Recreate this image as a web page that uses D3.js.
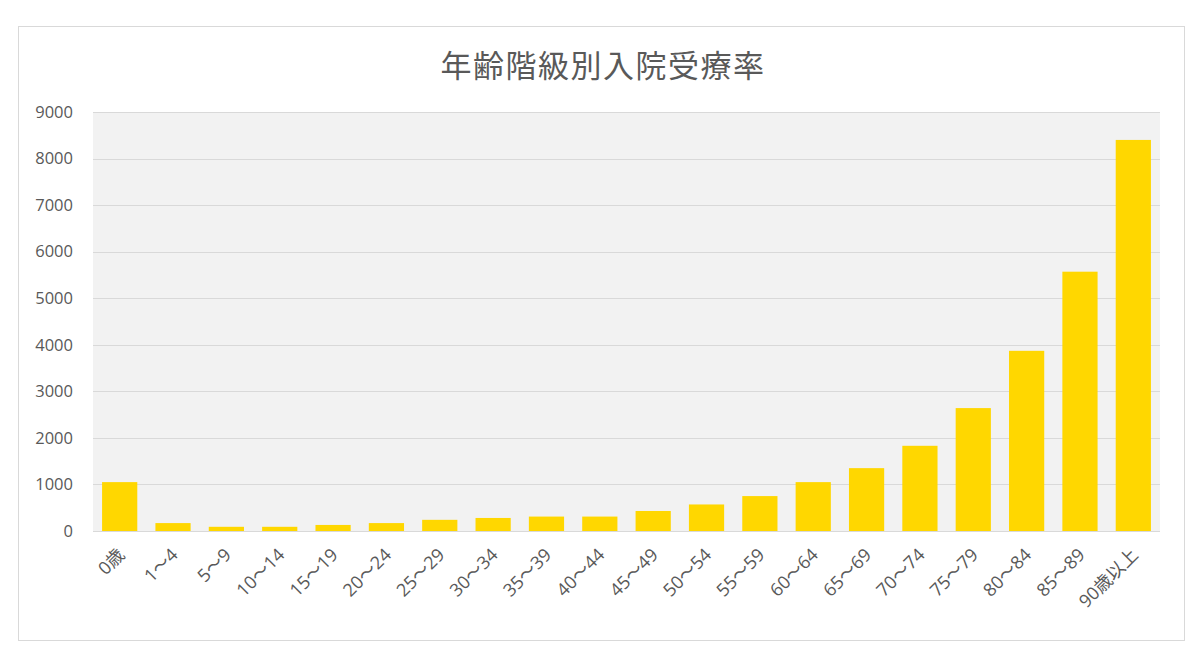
<!DOCTYPE html>
<html>
<head>
<meta charset="utf-8">
<script src="https://cdn.jsdelivr.net/npm/d3@7"></script>
<style>
  body { margin: 0; background: #fff; }
  svg { display: block; }
</style>
</head>
<body>
<div id="chart"></div>
<script>
const title = "年齢階級別入院受療率";
const categories = ["0歳", "1～4", "5～9", "10～14", "15～19", "20～24", "25～29", "30～34", "35～39", "40～44",
  "45～49", "50～54", "55～59", "60～64", "65～69", "70～74", "75～79", "80～84", "85～89", "90歳以上"];
const values = [1050, 170, 90, 90, 130, 170, 240, 280, 310, 310,
  430, 570, 750, 1050, 1350, 1830, 2640, 3870, 5570, 8400];
const yTicks = [0, 1000, 2000, 3000, 4000, 5000, 6000, 7000, 8000, 9000];

const width = 1200, height = 659;
const margin = {top: 112, right: 40, bottom: 128, left: 93};
const font = "'Open Sans', 'Noto Sans CJK JP', sans-serif";
const cjkFont = "'Noto Sans CJK JP', sans-serif";
const textColor = "#595959";

const svg = d3.select("#chart").append("svg")
  .attr("width", width)
  .attr("height", height);

// outer frame
svg.append("rect")
  .attr("x", 18.5).attr("y", 26.5)
  .attr("width", 1166).attr("height", 614)
  .attr("fill", "#fff")
  .attr("stroke", "#d9d9d9");

const x = d3.scaleBand()
  .domain(categories)
  .range([margin.left, width - margin.right])
  .paddingInner(0.34)
  .paddingOuter(0.17);

const y = d3.scaleLinear()
  .domain([0, 9000])
  .range([height - margin.bottom, margin.top]);

// plot background
svg.append("rect")
  .attr("x", margin.left).attr("y", y(9000))
  .attr("width", width - margin.right - margin.left)
  .attr("height", y(0) - y(9000))
  .attr("fill", "#f2f2f2");

// grid
svg.append("g")
  .selectAll("line")
  .data(yTicks)
  .join("line")
  .attr("x1", margin.left).attr("x2", width - margin.right)
  .attr("y1", d => Math.round(y(d)) + 0.5).attr("y2", d => Math.round(y(d)) + 0.5)
  .attr("stroke", "#d9d9d9");

// y axis labels
const yAxis = svg.append("g")
  .attr("transform", `translate(${margin.left},0)`)
  .call(d3.axisLeft(y).tickValues(yTicks).tickFormat(d3.format("d")).tickSize(0).tickPadding(20));
yAxis.select(".domain").remove();
yAxis.selectAll("text")
  .attr("fill", textColor)
  .style("font", `16.5px ${font}`);

// bars
svg.append("g")
  .selectAll("rect")
  .data(values)
  .join("rect")
  .attr("x", (d, i) => x(categories[i]))
  .attr("y", d => y(d))
  .attr("width", x.bandwidth())
  .attr("height", d => y(0) - y(d))
  .attr("fill", "#ffd700");

// x axis labels
const xAxis = svg.append("g")
  .attr("transform", `translate(0,${y(0)})`)
  .call(d3.axisBottom(x).tickSize(0).tickPadding(0));
xAxis.select(".domain").remove();
xAxis.selectAll("text")
  .attr("fill", textColor)
  .style("font", `18px ${font}`)
  .attr("text-anchor", "end")
  .attr("dy", null)
  .attr("transform", "translate(6,25) rotate(-45)");

// title
svg.append("text")
  .attr("x", 603)
  .attr("y", 77)
  .attr("text-anchor", "middle")
  .attr("fill", textColor)
  .style("font", `31px ${cjkFont}`)
  .style("letter-spacing", "1.5px")
  .text(title);
</script>
</body>
</html>
